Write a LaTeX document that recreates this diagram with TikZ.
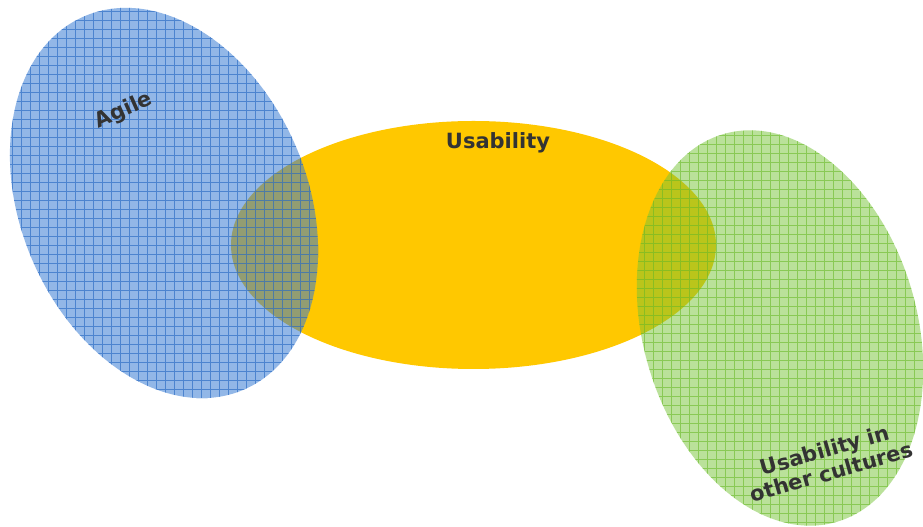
\documentclass[tikz,border=0pt]{standalone}
\usepackage{fontspec}
\setmainfont{DejaVu Sans}
\definecolor{uyellow}{RGB}{255,200,0}
\definecolor{bluefg}{RGB}{55,122,212}
\definecolor{bluegrid}{RGB}{40,105,195}
\definecolor{greenfg}{RGB}{118,196,55}
\definecolor{greengrid}{RGB}{105,185,40}
\definecolor{textgray}{RGB}{51,51,51}
\tikzset{
  lab/.style={text=textgray, font=\bfseries\fontsize{21}{25}\selectfont, inner sep=0pt},
}
\begin{document}
\begin{tikzpicture}[x=1pt,y=1pt]
\fill[white] (0,0) rectangle (923,527);
\useasboundingbox (0,0) rectangle (923,527);
% Usability ellipse
\fill[uyellow] (473.5,282) ellipse [x radius=242.5, y radius=124];
% Agile ellipse
\fill[bluefg, opacity=0.54] (164,324) circle [x radius=203, y radius=143.5, rotate=-67];
\begin{scope}
  \clip (164,324) circle [x radius=203, y radius=143.5, rotate=-67];
  \draw[bluegrid, line width=1pt, opacity=0.65, shift={(3pt,2pt)}] (-10,-10) grid[step=9pt] (400,540);
\end{scope}
% Usability in other cultures ellipse
\fill[greenfg, opacity=0.5] (780,199) circle [x radius=202, y radius=137, rotate=-73.7];
\begin{scope}
  \clip (780,199) circle [x radius=202, y radius=137, rotate=-73.7];
  \draw[greengrid, line width=1pt, opacity=0.6, shift={(5pt,4pt)}] (560,-20) grid[step=9pt] (940,540);
\end{scope}
% labels
\node[lab, rotate=24] (agile) at (124,416) {Agile};
\node[lab] (usab) at (498,384) {Usability};
\node[lab, rotate=16, align=center] (cult) at (828,66) {Usability in\\[-2pt]other cultures};
\end{tikzpicture}
\end{document}
